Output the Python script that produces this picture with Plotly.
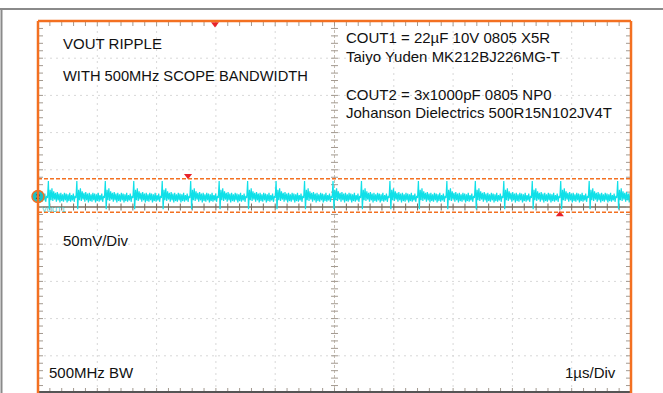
import numpy as np
import plotly.graph_objects as go

# ---------------------------------------------------------------- data
# Scope settings: 1 µs/div horizontally, 50 mV/div vertically, 10 x 10 divisions
time_range_us = [-5.0, 5.0]
volt_range_mv = [-250.0, 250.0]

# Switching spikes seen on the VOUT trace (µs)
spike_times_us = [-4.84, -4.36, -3.88, -3.40, -2.92, -2.44, -1.96, -1.48, -1.00,
                  -0.52, -0.04, 0.44, 0.92, 1.40, 1.88, 2.36, 2.84, 3.32, 3.80,
                  4.28, 4.76]
switching_period_us = 0.4806

# One switching cycle of the ripple waveform (mV), starting at the spike
ripple_cycle_mv = [12, 35, -3, 23, 9, 25, 8, 21, 10, 19, 7, 20, 9, 18, 6, 19,
                   8, 17, 7, 19, 9, 18, 6, 17, 8, 19, 7, 16, 9, 18, 7, 15]

# Measurement cursors (mV)
cursor_levels_mv = [38, -7]

# Trigger / cursor flags: time (µs), level (mV), direction
flag_times_us = [-2.015, -2.47, 3.80]
flag_levels_mv = [246, 42, -10]
flag_symbols = ["triangle-down", "triangle-down", "triangle-up"]

# Channel 2 ground/offset marker level (mV)
ch2_marker_mv = 14

# ---------------------------------------------------------------- layout
W, H = 663, 393
ML, MR, MT, MB = 38, 32, 21, 0
PW, PH = W - ML - MR, H - MT - MB

def px(x):
    return (x - ML) / PW

def py(y):
    return (H - MB - y) / PH

us_per_px = (time_range_us[1] - time_range_us[0]) / PW
mv_per_px = (volt_range_mv[1] - volt_range_mv[0]) / PH

ORANGE = "#F37021"
CYAN = "#10E0E8"
AXIS_H = "#7a6c5c"
AXIS_V = "#c4bcb2"
TICK = "#a39a90"
GRID = "#d8d8d8"

# waveform assembled cycle by cycle
tt, vv = [], []
n = len(ripple_cycle_mv)
starts = [spike_times_us[0] - switching_period_us] + spike_times_us
for s in starts:
    for i, v in enumerate(ripple_cycle_mv):
        tt.append(s + i * switching_period_us / n)
        vv.append(v)

fig = go.Figure()

# ---- graticule
shapes = []
for d in range(-4, 5):
    if d == 0:
        continue
    shapes.append(dict(type="line", xref="x", yref="paper", x0=d, x1=d, y0=0, y1=1,
                       line=dict(color=GRID, width=1, dash="2px,4px"), layer="below"))
for d in range(-4, 5):
    if d == 0:
        continue
    shapes.append(dict(type="line", xref="paper", yref="y", x0=0, x1=1, y0=d * 50, y1=d * 50,
                       line=dict(color=GRID, width=1, dash="2px,4px"), layer="below"))
# centre axes
shapes.append(dict(type="line", xref="x", yref="paper", x0=0, x1=0, y0=0, y1=1,
                   line=dict(color=AXIS_V, width=1, dash="3px,2px"), layer="below"))
shapes.append(dict(type="line", xref="paper", yref="y", x0=0, x1=1, y0=0, y1=0,
                   line=dict(color=AXIS_H, width=1.5), layer="below"))

# ---- minor ticks (0.2 div) on centre axes and frame
def tick_segments(positions, fixed, half, vertical):
    xs, ys = [], []
    for p in positions:
        if vertical:
            xs += [p, p, None]
            ys += [fixed - half[0], fixed + half[1], None]
        else:
            xs += [fixed - half[0], fixed + half[1], None]
            ys += [p, p, None]
    return xs, ys

xt = np.round(np.arange(-5, 5.001, 0.2), 3)
yt = np.round(np.arange(-250, 250.1, 10), 3)
ax_h = 3.5
tick_traces = [
    (tick_segments(xt, 0, (ax_h * mv_per_px, ax_h * mv_per_px), True), AXIS_H),
    (tick_segments(yt, 0, (ax_h * us_per_px, ax_h * us_per_px), False), TICK),
    (tick_segments(xt, 250, (5 * mv_per_px, 0), True), TICK),
    (tick_segments(xt, -250, (0, 5 * mv_per_px), True), TICK),
    (tick_segments(yt, -5, (0, 5 * us_per_px), False), TICK),
    (tick_segments(yt, 5, (5 * us_per_px, 0), False), TICK),
]
for (xs, ys), col in tick_traces:
    fig.add_trace(go.Scatter(x=xs, y=ys, mode="lines", line=dict(color=col, width=1),
                             hoverinfo="skip", showlegend=False))

# ---- cursors
for lvl in cursor_levels_mv:
    shapes.append(dict(type="line", xref="paper", yref="y", x0=0, x1=1, y0=lvl, y1=lvl,
                       line=dict(color=ORANGE, width=1.5, dash="4px,2px")))

# ---- the VOUT trace
fig.add_trace(go.Scatter(x=tt, y=vv, mode="lines", line=dict(color=CYAN, width=1.2),
                         hoverinfo="skip", showlegend=False))

# ---- flags
fig.add_trace(go.Scatter(x=flag_times_us, y=flag_levels_mv, mode="markers",
                         marker=dict(symbol=flag_symbols, size=7, color="#E8222A"),
                         cliponaxis=False, hoverinfo="skip", showlegend=False))

# ---- channel 2 marker
fig.add_trace(go.Scatter(x=[time_range_us[0]], y=[ch2_marker_mv], mode="markers+text",
                         marker=dict(size=12, color="#1DBFC4", line=dict(color=ORANGE, width=1.5)),
                         text=["2"], textposition="middle center",
                         textfont=dict(size=8, color="#123", family="Liberation Sans"),
                         cliponaxis=False, hoverinfo="skip", showlegend=False))

# ---- screen frame
shapes += [
    dict(type="line", xref="paper", yref="paper", x0=px(0), x1=px(W), y0=py(9), y1=py(9),
         line=dict(color="#8a8a8a", width=2)),
    dict(type="line", xref="paper", yref="paper", x0=px(1.5), x1=px(1.5), y0=py(9), y1=py(H + 2),
         line=dict(color="#8a8a8a", width=2)),
    dict(type="line", xref="paper", yref="paper", x0=0, x1=1, y0=py(392), y1=py(392),
         line=dict(color="#555555", width=2)),
    dict(type="line", xref="paper", yref="paper", x0=0, x1=0, y0=py(393), y1=1,
         line=dict(color=ORANGE, width=2.5)),
    dict(type="line", xref="paper", yref="paper", x0=1, x1=1, y0=py(393), y1=1,
         line=dict(color=ORANGE, width=2.5)),
    dict(type="line", xref="paper", yref="paper", x0=0, x1=1, y0=1, y1=1,
         line=dict(color=ORANGE, width=2.5)),
]

# ---- screen labels
FONT = "Liberation Sans, Arial, sans-serif"

def label(text, x, y, anchor="left", size=15, color="#111111"):
    return dict(text=text, xref="paper", yref="paper", x=px(x), y=py(y),
                xanchor=anchor, yanchor="middle", showarrow=False,
                font=dict(family=FONT, size=size, color=color))

annotations = [
    label("VOUT RIPPLE", 61, 44),
    label("WITH 500MHz SCOPE BANDWIDTH", 61, 76, size=14.7),
    label("COUT1 = 22µF 10V 0805 X5R", 344, 38),
    label("Taiyo Yuden MK212BJ226MG-T", 344, 56),
    label("COUT2 = 3x1000pF 0805 NP0", 344, 94),
    label("Johanson Dielectrics 500R15N102JV4T", 344, 112),
    label("50mV/Div", 61, 241),
    label("500MHz BW", 47, 372),
    label("1µs/Div", 618, 372, anchor="right"),
    label("VOUT1", 40, 209, size=7, color="#3cc8cc"),
]

fig.update_layout(
    width=W, height=H,
    margin=dict(l=ML, r=MR, t=MT, b=MB),
    paper_bgcolor="white", plot_bgcolor="white",
    xaxis=dict(range=time_range_us, showgrid=False, zeroline=False, showticklabels=False,
               ticks="", fixedrange=True),
    yaxis=dict(range=volt_range_mv, showgrid=False, zeroline=False, showticklabels=False,
               ticks="", fixedrange=True),
    shapes=shapes, annotations=annotations,
    showlegend=False, hovermode=False,
)

fig.write_html("out.html", config={"displayModeBar": False})
